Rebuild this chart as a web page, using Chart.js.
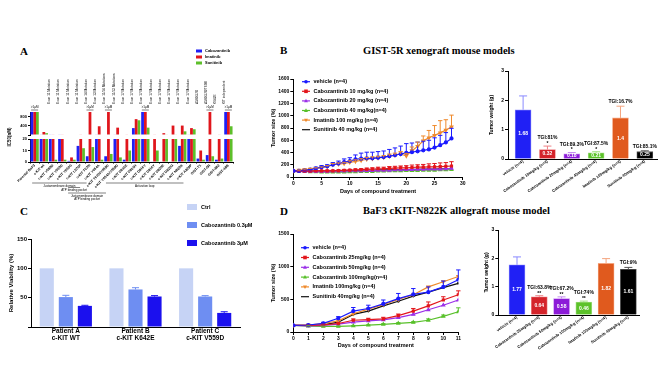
<!DOCTYPE html>
<html>
<head>
<meta charset="utf-8">
<script src="https://cdn.jsdelivr.net/npm/chart.js@4.4.0/dist/chart.umd.min.js"></script>
<style>
  body { margin: 0; background: #fff; }
  #wrap { position: relative; width: 661px; height: 387px; overflow: hidden; background: #fff; }
  canvas { position: absolute; }
  .t { position: absolute; font-family: 'Liberation Serif', 'Times New Roman', serif; font-weight: bold; white-space: nowrap; color: #000; line-height: 1; }
</style>
</head>
<body>
<div id="wrap">
  <div class="t" style="left:20px;top:46px;font-size:11px">A</div>
  <div class="t" style="left:280px;top:45px;font-size:11px">B</div>
  <div class="t" style="left:20px;top:206px;font-size:11px">C</div>
  <div class="t" style="left:280px;top:206px;font-size:11px">D</div>
  <div class="t" style="left:363px;top:46px;font-size:10.5px">GIST-5R xenograft mouse models</div>
  <div class="t" style="left:363px;top:206px;font-size:10.5px">BaF3 cKIT-N822K allograft mouse model</div>
  <canvas id="a1"></canvas>
  <canvas id="a2"></canvas>
  <canvas id="bLine"></canvas>
  <canvas id="bBar"></canvas>
  <canvas id="cBar"></canvas>
  <canvas id="dLine"></canvas>
  <canvas id="dBar"></canvas>
</div>
<script>
// ---------- A: IC50 per cell line ----------
const aGroups = ['Parental BaF3', 'c-KIT wt', 'c-KIT V559D', 'c-KIT V560D', 'c-KIT V560G', 'c-KIT L576P',
  'c-KIT T670I', 'c-KIT V654A', 'c-KIT T670I/V559D', 'c-KIT V654A/V559D', 'c-KIT D816E', 'c-KIT D816H',
  'c-KIT D816V', 'c-KIT D816Y', 'c-KIT D820E', 'c-KIT D820G', 'c-KIT N822K', 'c-KIT A829P',
  'GIST-T1', 'GIST-5R', 'GIST-882', 'GIST-48B'];
const aMutations = ['', '', 'Exon 11 Mutation', 'Exon 11 Mutation', 'Exon 11 Mutation', 'Exon 11 Mutation',
  'Exon 14 Mutation', 'Exon 13 Mutation', 'Exon 11/14 Mutations', 'Exon 11/13 Mutations',
  'Exon 17 Mutation', 'Exon 17 Mutation', 'Exon 17 Mutation', 'Exon 17 Mutation', 'Exon 17 Mutation',
  'Exon 17 Mutation', 'Exon 17 Mutation', 'Exon 17 Mutation', 'Δ560-578', 'Δ560-578/T670I', 'K642E', 'KIT independent'];
const aCabo = [1000, 25, 25, 25, 1, 14, 5, 25, 5, 25, 2, 300, 1000, 0.5, 0.5, 0.5, 14, 25, 3, 6, 2, 1000];
const aIma  = [1000, 130, 25, 25, 4, 25, 1000, 380, 1000, 320, 25, 690, 1000, 25, 80, 410, 410, 300, 10, 1000, 25, 1000];
const aSuni = [1000, 80, 2, 2, 2, 12, 13, 2, 7, 4, 10, 640, 320, 10, 25, 25, 160, 250, 2, 5, 3, 380];
const aDrugs = ['Cabozantinib', 'Imatinib', 'Sunitinib'];
// brackets below the labels: [from group, to group, y, text...]
const aBrackets = [[1.9, 7.8, 183, 'Juxtamembrane domain'], [5.8, 7.1, 187.5, 'ATP binding pocket'],
  [5.8, 9.9, 193, 'Juxtamembrane domain', 'ATP binding pocket'], [9.9, 18.3, 183, 'Activation loop']];

// ---------- B: GIST-5R xenograft ----------
const bDays = [0, 1, 2, 3, 4, 5, 6, 7, 8, 9, 10, 11, 12, 13, 14, 15, 16, 17, 18, 19, 20, 21, 22, 23, 24, 25, 26, 27, 28];
const bVehicle = [100, 100, 110, 120, 140, 160, 175, 200, 220, 245, 260, 290, 300, 305, 305, 315, 325, 340, 355, 375, 395, 405, 420, 435, 450, 480, 520, 565, 630];
const bVehicleErr = [0, 5, 10, 10, 20, 25, 25, 35, 40, 50, 55, 70, 90, 100, 100, 100, 100, 110, 120, 130, 150, 150, 150, 150, 150, 160, 160, 160, 165];
const bCabo10 = [100, 95, 95, 95, 100, 100, 100, 100, 105, 110, 112, 115, 120, 125, 130, 135, 135, 140, 145, 150, 150, 155, 160, 160, 165, 165, 170, 175, 180];
const bCabo10Err = [0, 5, 5, 5, 5, 5, 10, 10, 10, 10, 10, 15, 15, 20, 20, 25, 25, 30, 30, 30, 35, 40, 40, 45, 50, 55, 60, 60, 70];
const bCabo20 = [100, 95, 90, 90, 90, 90, 90, 95, 95, 95, 100, 100, 100, 105, 105, 110, 110, 110, 115, 115, 120, 120, 125, 125, 130, 130, 130, 135, 140];
const bCabo40 = [100, 95, 90, 85, 85, 80, 80, 80, 80, 80, 85, 85, 90, 90, 90, 95, 95, 100, 100, 100, 105, 105, 105, 110, 110, 110, 115, 115, 120];
const bImatinib = [100, 110, 120, 130, 140, 150, 170, 200, 210, 220, 240, 255, 270, 290, 300, 310, 320, 340, 355, 375, 345, 430, 500, 590, 640, 680, 720, 765, 820];
const bImatinibErr = [0, 5, 10, 10, 10, 15, 15, 20, 20, 20, 25, 25, 30, 30, 30, 30, 30, 35, 35, 40, 40, 60, 70, 80, 120, 160, 200, 170, 190];
const bSunitinib = [100, 100, 95, 95, 95, 95, 95, 100, 100, 100, 105, 105, 110, 110, 110, 115, 115, 115, 120, 120, 120, 125, 125, 130, 130, 130, 135, 135, 140];
const bSeries = ['vehicle (n=4)', 'Cabozantinib 10 mg/kg (n=4)', 'Cabozantinib 20 mg/kg (n=4)', 'Cabozantinib 40 mg/kg(n=4)', 'Imatinib 100 mg/kg (n=4)', 'Sunitinib 40 mg/kg (n=4)'];
const bGroups = ['vehicle (n=4)', 'Cabozantinib 10mg/kg (n=4)', 'Cabozantinib 20mg/kg (n=4)', 'Cabozantinib 40mg/kg (n=4)', 'Imatinib 100mg/kg (n=4)', 'Sunitinib 40mg/kg (n=4)'];
const bWeight = [1.68, 0.32, 0.18, 0.21, 1.4, 0.25];
const bWeightErr = [0.47, 0.12, 0.04, 0.04, 0.4, 0.03];
const bTgi = ['', 'TGI:81%', 'TGI:89.3%', 'TGI:87.5%', 'TGI:16.7%', 'TGI:85.1%'];
const bStars = ['', '*', '*', '*', '', ''];

// ---------- C: patient cells ----------
const cGroups = [['Patient A', 'c-KIT WT'], ['Patient B', 'c-KIT K642E'], ['Patient C', 'c-KIT V559D']];
const cSeries = ['Ctrl', 'Cabozantinib 0.3µM', 'Cabozantinib 3µM'];
const cCtrl = [100, 100, 100];
const cCabo03 = [51, 64, 52];
const cCabo03Err = [3, 3, 1.5];
const cCabo3 = [36, 52, 24];
const cCabo3Err = [1, 1.5, 2];

// ---------- D: BaF3 cKIT-N822K allograft ----------
const dDays = [0, 1, 2, 3, 4, 5, 6, 7, 8, 9, 10, 11];
const dVehicle = [100, 107, 133, 210, 320, 360, 430, 510, 575, 610, 690, 800];
const dVehicleErr = [0, 10, 15, 25, 55, 50, 60, 80, 90, 80, 90, 150];
const dCabo25 = [100, 100, 110, 130, 180, 190, 200, 250, 320, 400, 490, 570];
const dCabo25Err = [0, 5, 10, 10, 20, 20, 25, 25, 40, 60, 50, 60];
const dCabo50 = [100, 95, 100, 120, 150, 170, 185, 220, 270, 340, 410, 490];
const dCabo100 = [100, 90, 85, 85, 95, 105, 118, 133, 148, 180, 240, 310];
const dCabo100Err = [0, 5, 5, 5, 5, 5, 10, 10, 10, 20, 20, 60];
const dImatinib = [100, 105, 130, 170, 280, 350, 420, 500, 570, 690, 770, 850];
const dSunitinib = [100, 100, 110, 150, 270, 320, 400, 470, 550, 610, 680, 745];
const dSeries = ['vehicle (n=4)', 'Cabozantinib 25mg/kg (n=4)', 'Cabozantinib 50mg/kg (n=4)', 'Cabozantinib 100mg/kg(n=4)', 'Imatinib 100mg/kg (n=4)', 'Sunitinib 40mg/kg (n=4)'];
const dGroups = ['vehicle (n=4)', 'Cabozantinib 25mg/kg (n=4)', 'Cabozantinib 50mg/kg (n=4)', 'Cabozantinib 100mg/kg (n=4)', 'Imatinib 100mg/kg (n=4)', 'Sunitinib 40mg/kg (n=4)'];
const dWeight = [1.77, 0.64, 0.58, 0.46, 1.82, 1.61];
const dWeightErr = [0.28, 0.04, 0.06, 0.03, 0.17, 0.07];
const dTgi = ['', 'TGI:63.8%', 'TGI:67.2%', 'TGI:74%', '', 'TGI:9%'];
const dStars = ['', '**', '**', '**', '', ''];

const FONT = "'Liberation Sans', Arial, sans-serif";
Chart.defaults.font.family = FONT;
Chart.defaults.font.weight = 'bold';
Chart.defaults.color = '#000';
Chart.defaults.animation = false;
Chart.defaults.plugins.legend.display = false;
Chart.defaults.plugins.tooltip.enabled = false;

const lineColors = ['#1a1aff', '#e3161c', '#9b30e8', '#58c02a', '#ef8a2c', '#111111'];
const barColors = ['#2020f5', '#d4232a', '#8c1bd8', '#5cc22a', '#e05a1e', '#000000'];
const barEdges = ['#8a8aff', '#ee8084', '#c58af0', '#a6e086', '#f4a47e', '#555555'];

function place(id, left, top, w, h) {
  const c = document.getElementById(id);
  c.width = w; c.height = h;
  c.style.left = left + 'px'; c.style.top = top + 'px';
  c.style.width = w + 'px'; c.style.height = h + 'px';
  return c;
}
const fixW = w => s => { s.width = w; s.paddingTop = 0; s.paddingBottom = 0; };
const fixH = h => s => { s.height = h; s.paddingLeft = 0; s.paddingRight = 0; };
const yVal = d => (d !== null && typeof d === 'object') ? d.y : d;
const pts = (xs, ys) => xs.map((x, i) => ({ x: x, y: ys[i] }));
const plain = v => String(v);

function axis(extra) {
  return Object.assign({
    grid: { drawOnChartArea: false, tickLength: 3, color: '#000', lineWidth: 1 },
    border: { color: '#000', width: 1 }
  }, extra);
}

function drawMarker(ctx, style, rot, x, y, r, color) {
  ctx.save();
  ctx.fillStyle = color;
  ctx.translate(x, y);
  ctx.rotate((rot || 0) * Math.PI / 180);
  ctx.beginPath();
  if (style === 'rect') ctx.rect(-r, -r, 2 * r, 2 * r);
  else if (style === 'triangle') { ctx.moveTo(0, -r * 1.2); ctx.lineTo(r * 1.1, r * 0.8); ctx.lineTo(-r * 1.1, r * 0.8); ctx.closePath(); }
  else ctx.arc(0, 0, r, 0, Math.PI * 2);
  ctx.fill();
  ctx.restore();
}

// upward error bars from a dataset's errorBars array
const errorBars = {
  id: 'errorBars',
  afterDatasetsDraw(chart) {
    const ctx = chart.ctx;
    chart.data.datasets.forEach((ds, di) => {
      if (!ds.errorBars) return;
      const meta = chart.getDatasetMeta(di);
      const ys = chart.scales[meta.yAxisID];
      ctx.save();
      ctx.lineWidth = ds.errorWidth || 1;
      meta.data.forEach((el, i) => {
        const e = ds.errorBars[i];
        if (!e) return;
        const col = Array.isArray(ds.errorColor) ? ds.errorColor[i] : (ds.errorColor || ds.borderColor);
        const top = ys.getPixelForValue(yVal(ds.data[i]) + e);
        const cap = ds.errorCap || 2;
        ctx.strokeStyle = col;
        ctx.beginPath();
        ctx.moveTo(el.x, el.y); ctx.lineTo(el.x, top);
        ctx.moveTo(el.x - cap, top); ctx.lineTo(el.x + cap, top);
        ctx.stroke();
      });
      ctx.restore();
    });
  }
};

// legend drawn inside the plot of the line charts
const lineLegend = {
  id: 'lineLegend',
  afterDraw(chart, args, o) {
    const { ctx, chartArea } = chart;
    chart.data.datasets.forEach((ds, i) => {
      const x = chartArea.left + o.left;
      const y = chartArea.top + o.top + i * o.step;
      ctx.save();
      ctx.strokeStyle = ds.borderColor; ctx.lineWidth = 1.2;
      ctx.beginPath(); ctx.moveTo(x, y); ctx.lineTo(x + 8, y); ctx.stroke();
      if (ds.pointRadius > 1) drawMarker(ctx, ds.pointStyle, ds.pointRotation, x + 4, y, 1.8, ds.borderColor);
      ctx.fillStyle = '#000';
      ctx.font = 'bold ' + o.size + 'px ' + FONT;
      ctx.textBaseline = 'middle';
      ctx.fillText(ds.label, x + 11.5, y);
      ctx.restore();
    });
  }
};

// value inside bars, TGI and stars above
const barNotes = {
  id: 'barNotes',
  afterDatasetsDraw(chart) {
    const ds = chart.data.datasets[0];
    const meta = chart.getDatasetMeta(0);
    const ys = chart.scales.y;
    const ctx = chart.ctx;
    ctx.save();
    ctx.textAlign = 'center'; ctx.textBaseline = 'middle';
    ctx.font = 'bold 5px ' + FONT;
    meta.data.forEach((el, i) => {
      const v = ds.data[i].y;
      ctx.fillStyle = '#fff';
      ctx.fillText(String(v), el.x, (el.y + el.base) / 2);
      const top = ys.getPixelForValue(v + ds.errorBars[i]);
      ctx.fillStyle = '#000';
      if (ds.stars[i]) ctx.fillText(ds.stars[i], el.x, top - 2.5);
      if (ds.tgi[i]) ctx.fillText(ds.tgi[i], el.x, top - (ds.stars[i] ? 8 : 4.5));
    });
    ctx.restore();
  }
};

// box legend (panels A and C)
const boxLegend = {
  id: 'boxLegend',
  afterDraw(chart, args, o) {
    const ctx = chart.ctx;
    chart.data.datasets.forEach((ds, i) => {
      const y = o.y + i * o.step;
      ctx.save();
      ctx.fillStyle = ds.backgroundColor;
      ctx.fillRect(o.x, y - o.h / 2, o.w, o.h);
      ctx.fillStyle = '#000';
      ctx.font = 'bold ' + o.size + 'px ' + FONT;
      ctx.textBaseline = 'middle';
      ctx.fillText(ds.label, o.x + o.w + o.gap, y);
      ctx.restore();
    });
  }
};

// ">1µM" marks over groups at the top of the IC50 range
const overRange = {
  id: 'overRange',
  afterDraw(chart) {
    const { ctx, chartArea } = chart;
    const xs = chart.scales.x;
    ctx.save();
    ctx.font = '3px ' + FONT;
    ctx.textAlign = 'center'; ctx.textBaseline = 'bottom';
    ctx.strokeStyle = '#000'; ctx.lineWidth = 0.5; ctx.fillStyle = '#000';
    aGroups.forEach((g, i) => {
      if (Math.max(aCabo[i], aIma[i], aSuni[i]) < 1000) return;
      const x = xs.getPixelForValue(i);
      ctx.fillText('>1μM', x, chartArea.top - 3);
      ctx.beginPath(); ctx.moveTo(x - 3.5, chartArea.top - 2); ctx.lineTo(x + 3.5, chartArea.top - 2); ctx.stroke();
    });
    ctx.restore();
  }
};

// y title spanning both segments + domain brackets
const aExtras = {
  id: 'aExtras',
  afterDraw(chart) {
    const ctx = chart.ctx;
    const xs = chart.scales.x;
    const top = 100;
    ctx.save();
    ctx.translate(10, 137 - top);
    ctx.rotate(-Math.PI / 2);
    ctx.font = 'bold 4.5px ' + FONT;
    ctx.textAlign = 'center'; ctx.textBaseline = 'middle';
    ctx.fillText('IC50(nM)', 0, 0);
    ctx.restore();
    ctx.save();
    ctx.strokeStyle = '#000'; ctx.lineWidth = 0.5; ctx.fillStyle = '#000';
    ctx.font = '3px ' + FONT;
    ctx.textAlign = 'center'; ctx.textBaseline = 'middle';
    aBrackets.forEach(b => {
      const x0 = xs.getPixelForValue(b[0]) - 20;
      const x1 = xs.getPixelForValue(b[1]) - 20;
      const y = b[2] - top;
      ctx.beginPath(); ctx.moveTo(x0, y); ctx.lineTo(x1, y); ctx.stroke();
      b.slice(3).forEach((t, k) => ctx.fillText(t, (x0 + x1) / 2, y + 3 + k * 3.5));
    });
    ctx.restore();
  }
};

// ---------- Panel A, top segment (0-1000) ----------
const aColors = ['#1f1ff5', '#e0161c', '#5dbf2a'];
const aSets = [aCabo, aIma, aSuni];
new Chart(place('a1', 0, 40, 240, 97), {
  type: 'bar',
  data: {
    labels: aGroups,
    datasets: aSets.map((vals, k) => ({
      label: aDrugs[k], data: vals.map(v => v > 20 ? v : null), backgroundColor: aColors[k]
    }))
  },
  options: {
    responsive: false, devicePixelRatio: 1,
    layout: { padding: { left: 0, right: 7, top: 0, bottom: 2 } },
    datasets: { bar: { categoryPercentage: 0.9, barPercentage: 1 } },
    plugins: { boxLegend: { x: 196, y: 11, step: 6, w: 6, h: 3, gap: 3, size: 4 } },
    scales: {
      x: { display: false },
      x2: {
        type: 'category', labels: aMutations, position: 'top', offset: true,
        grid: { display: false, drawTicks: false }, border: { display: false },
        ticks: { autoSkip: false, minRotation: 90, maxRotation: 90, padding: 8, font: { size: 3.2, weight: 'normal' } },
        afterFit: fixH(72)
      },
      y: axis({
        min: 0, max: 1000,
        ticks: { stepSize: 200, font: { size: 4 }, padding: 1, callback: v => v === 0 ? '' : String(v) },
        grid: { drawOnChartArea: false, tickLength: 2, color: '#000' },
        afterFit: fixW(30)
      })
    }
  },
  plugins: [boxLegend, overRange]
});

// ---------- Panel A, bottom segment (0-20) ----------
new Chart(place('a2', 0, 100, 240, 105), {
  type: 'bar',
  data: {
    labels: aGroups,
    datasets: aSets.map((vals, k) => ({
      label: aDrugs[k], data: vals.map(v => Math.min(v, 20)), backgroundColor: aColors[k]
    }))
  },
  options: {
    responsive: false, devicePixelRatio: 1,
    layout: { padding: { left: 0, right: 7, top: 39, bottom: 0 } },
    datasets: { bar: { categoryPercentage: 0.9, barPercentage: 1 } },
    scales: {
      x: axis({
        ticks: { autoSkip: false, minRotation: 45, maxRotation: 45, padding: 0, font: { size: 3.5 } },
        grid: { drawOnChartArea: false, tickLength: 1.5, color: '#000', offset: true },
        afterFit: fixH(43)
      }),
      y: axis({
        min: 0, max: 20,
        ticks: { stepSize: 5, font: { size: 4 }, padding: 1, callback: plain },
        grid: { drawOnChartArea: false, tickLength: 2, color: '#000' },
        afterFit: fixW(30)
      })
    }
  },
  plugins: [aExtras]
});

// ---------- line chart helper (B and D) ----------
const markers = [['circle', 0, 1.5], ['rect', 0, 1.4], ['triangle', 0, 1.6], ['triangle', 0, 1.6], ['triangle', 180, 1.6], ['circle', 0, 0.8]];
function lineSet(label, days, vals, k, err) {
  return {
    label: label, data: pts(days, vals),
    borderColor: lineColors[k], backgroundColor: lineColors[k],
    borderWidth: 1.2, pointStyle: markers[k][0], pointRotation: markers[k][1], pointRadius: markers[k][2],
    errorBars: err, errorColor: lineColors[k], errorCap: 2.2
  };
}

new Chart(place('bLine', 270, 60, 198, 135), {
  type: 'line',
  data: {
    datasets: [
      lineSet(bSeries[0], bDays, bVehicle, 0, bVehicleErr),
      lineSet(bSeries[1], bDays, bCabo10, 1, bCabo10Err),
      lineSet(bSeries[2], bDays, bCabo20, 2),
      lineSet(bSeries[3], bDays, bCabo40, 3),
      lineSet(bSeries[4], bDays, bImatinib, 4, bImatinibErr),
      lineSet(bSeries[5], bDays, bSunitinib, 5)
    ]
  },
  options: {
    responsive: false, devicePixelRatio: 1,
    layout: { padding: { left: 0, right: 4, top: 19, bottom: 0 } },
    plugins: { lineLegend: { left: 8.7, top: 2.7, step: 9.6, size: 5.5 } },
    scales: {
      x: axis({
        type: 'linear', min: 0, max: 30,
        ticks: { stepSize: 5, font: { size: 5 }, padding: 1, callback: plain },
        title: { display: true, text: 'Days of compound treatment', font: { size: 5.5 }, padding: 0 },
        afterFit: fixH(18)
      }),
      y: axis({
        min: 0, max: 1600,
        ticks: { stepSize: 200, font: { size: 5 }, padding: 1, callback: plain },
        title: { display: true, text: 'Tumor size (%)', font: { size: 5.5 }, padding: 0 },
        afterFit: fixW(23.3)
      })
    }
  },
  plugins: [errorBars, lineLegend]
});

new Chart(place('dLine', 270, 220, 198, 129), {
  type: 'line',
  data: {
    datasets: [
      lineSet(dSeries[0], dDays, dVehicle, 0, dVehicleErr),
      lineSet(dSeries[1], dDays, dCabo25, 1, dCabo25Err),
      lineSet(dSeries[2], dDays, dCabo50, 2),
      lineSet(dSeries[3], dDays, dCabo100, 3, dCabo100Err),
      lineSet(dSeries[4], dDays, dImatinib, 4),
      lineSet(dSeries[5], dDays, dSunitinib, 5)
    ]
  },
  options: {
    responsive: false, devicePixelRatio: 1,
    layout: { padding: { left: 0, right: 9.7, top: 14, bottom: 0 } },
    plugins: { lineLegend: { left: 7.7, top: 13.7, step: 9.8, size: 5.5 } },
    scales: {
      x: axis({
        type: 'linear', min: 0, max: 11,
        ticks: { stepSize: 1, font: { size: 5 }, padding: 1, callback: plain },
        title: { display: true, text: 'Days of compound treatment', font: { size: 5.5 }, padding: 0 },
        afterFit: fixH(17)
      }),
      y: axis({
        min: 0, max: 1500,
        ticks: { stepSize: 500, font: { size: 5 }, padding: 1, callback: plain },
        title: { display: true, text: 'Tumor size (%)', font: { size: 5.5 }, padding: 0 },
        afterFit: fixW(23.3)
      })
    }
  },
  plugins: [errorBars, lineLegend]
});

// ---------- tumour weight bars (B and D) ----------
function weightChart(id, box, groups, weights, errs, tgi, stars, xr, pad, yW, xH) {
  new Chart(place(id, box[0], box[1], box[2], box[3]), {
    type: 'bar',
    data: {
      datasets: [{
        data: weights.map((v, i) => ({ x: i, y: v })),
        backgroundColor: barColors, borderColor: barEdges, borderWidth: 0.8, barThickness: 16,
        errorBars: errs, errorColor: barEdges, errorCap: 4, tgi: tgi, stars: stars
      }]
    },
    options: {
      responsive: false, devicePixelRatio: 1,
      layout: { padding: pad },
      scales: {
        x: axis({
          type: 'linear', min: xr[0], max: xr[1], offset: false,
          afterBuildTicks: s => { s.ticks = groups.map((g, i) => ({ value: i })); },
          ticks: { autoSkip: false, minRotation: 35, maxRotation: 35, padding: 0, font: { size: 4 }, callback: v => groups[v] },
          grid: { drawOnChartArea: false, drawTicks: false, offset: false },
          afterFit: fixH(xH)
        }),
        y: axis({
          min: 0, max: 3,
          ticks: { stepSize: 1, font: { size: 5 }, padding: 1, callback: plain },
          title: { display: true, text: 'Tumor weight (g)', font: { size: 5 }, padding: 0 },
          afterFit: fixW(yW)
        })
      }
    },
    plugins: [errorBars, barNotes]
  });
}
weightChart('bBar', [489, 60, 172, 150], bGroups, bWeight, bWeightErr, bTgi, bStars, [-0.62, 5.5],
  { left: 0, right: 4, top: 11, bottom: 0 }, 19, 51);
weightChart('dBar', [484, 220, 177, 150], dGroups, dWeight, dWeightErr, dTgi, dStars, [-0.84, 5.5],
  { left: 0, right: 21.5, top: 10, bottom: 0 }, 14.3, 55);

// ---------- Panel C ----------
const cColors = ['#c6d3f5', '#6e8ef2', '#1b10ee'];
new Chart(place('cBar', 8, 198, 262, 162), {
  type: 'bar',
  data: {
    labels: cGroups,
    datasets: [
      { label: cSeries[0], data: cCtrl, backgroundColor: cColors[0] },
      { label: cSeries[1], data: cCabo03, backgroundColor: cColors[1], errorBars: cCabo03Err, errorColor: cColors[1], errorCap: 3.5 },
      { label: cSeries[2], data: cCabo3, backgroundColor: cColors[2], errorBars: cCabo3Err, errorColor: cColors[2], errorCap: 3.5 }
    ]
  },
  options: {
    responsive: false, devicePixelRatio: 1,
    layout: { padding: { left: 0, right: 30, top: 41, bottom: 0 } },
    datasets: { bar: { categoryPercentage: 0.82, barPercentage: 0.74 } },
    plugins: { boxLegend: { x: 179, y: 9, step: 18, w: 10, h: 6, gap: 4, size: 5.5 } },
    scales: {
      x: axis({
        ticks: { font: { size: 6.5 }, padding: 0 },
        grid: { drawOnChartArea: false, drawTicks: false },
        afterFit: fixH(33)
      }),
      y: axis({
        min: 0, max: 150,
        ticks: { stepSize: 50, font: { size: 6 }, padding: 1, callback: v => v === 0 ? '' : String(v) },
        title: { display: true, text: 'Relative Viability (%)', font: { size: 6 }, padding: 0 },
        afterFit: fixW(23)
      })
    }
  },
  plugins: [errorBars, boxLegend]
});
</script>
</body>
</html>
